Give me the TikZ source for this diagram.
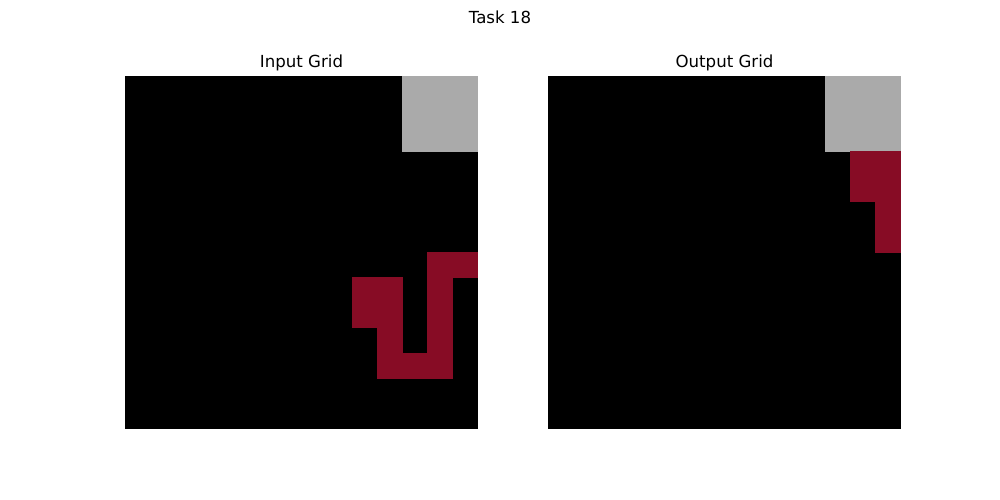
\documentclass[tikz,border=0pt]{standalone}
\usepackage{fontspec}
\setmainfont{DejaVu Sans}
\definecolor{arcgray}{HTML}{AAAAAA}
\definecolor{arcred}{HTML}{870C25}
\begin{document}
\begin{tikzpicture}[x=0.7227pt,y=-0.7227pt,
  lbl/.style={inner sep=0pt,anchor=base,font=\fontsize{12}{14}\selectfont},
  gridbg/.style={fill=black},
  graycell/.style={fill=arcgray},
  redcell/.style={fill=arcred}]
\useasboundingbox (0,0) rectangle (1000,500);
\def\cs{25.2143}
% Input grid
\begin{scope}[shift={(125,76)}]
  \fill[gridbg] (0,0) rectangle (353,353);
  \fill[graycell] (11*\cs,0) rectangle (14*\cs,3*\cs);
  \foreach \c/\r in {12/7,13/7,12/8,12/9,12/10,12/11,11/11,10/11,10/10,10/9,10/8,9/8,9/9}
    \fill[redcell] (\c*\cs-0.3,\r*\cs-0.3) rectangle (\c*\cs+\cs+0.3,\r*\cs+\cs+0.3);
\end{scope}
% Output grid
\begin{scope}[shift={(548,76)}]
  \fill[gridbg] (0,0) rectangle (353,353);
  \fill[graycell] (11*\cs,0) rectangle (14*\cs,3*\cs);
  \foreach \c/\r in {12/3,13/3,12/4,13/4,13/5,13/6}
    \fill[redcell] (\c*\cs-0.3,\r*\cs-0.3) rectangle (\c*\cs+\cs+0.3,\r*\cs+\cs+0.3);
\end{scope}
\node[lbl] (title) at (500,24) {Task 18};
\node[lbl] (intitle) at (301.5,67.5) {Input Grid};
\node[lbl] (outtitle) at (724.5,67.5) {Output Grid};
\end{tikzpicture}
\end{document}
